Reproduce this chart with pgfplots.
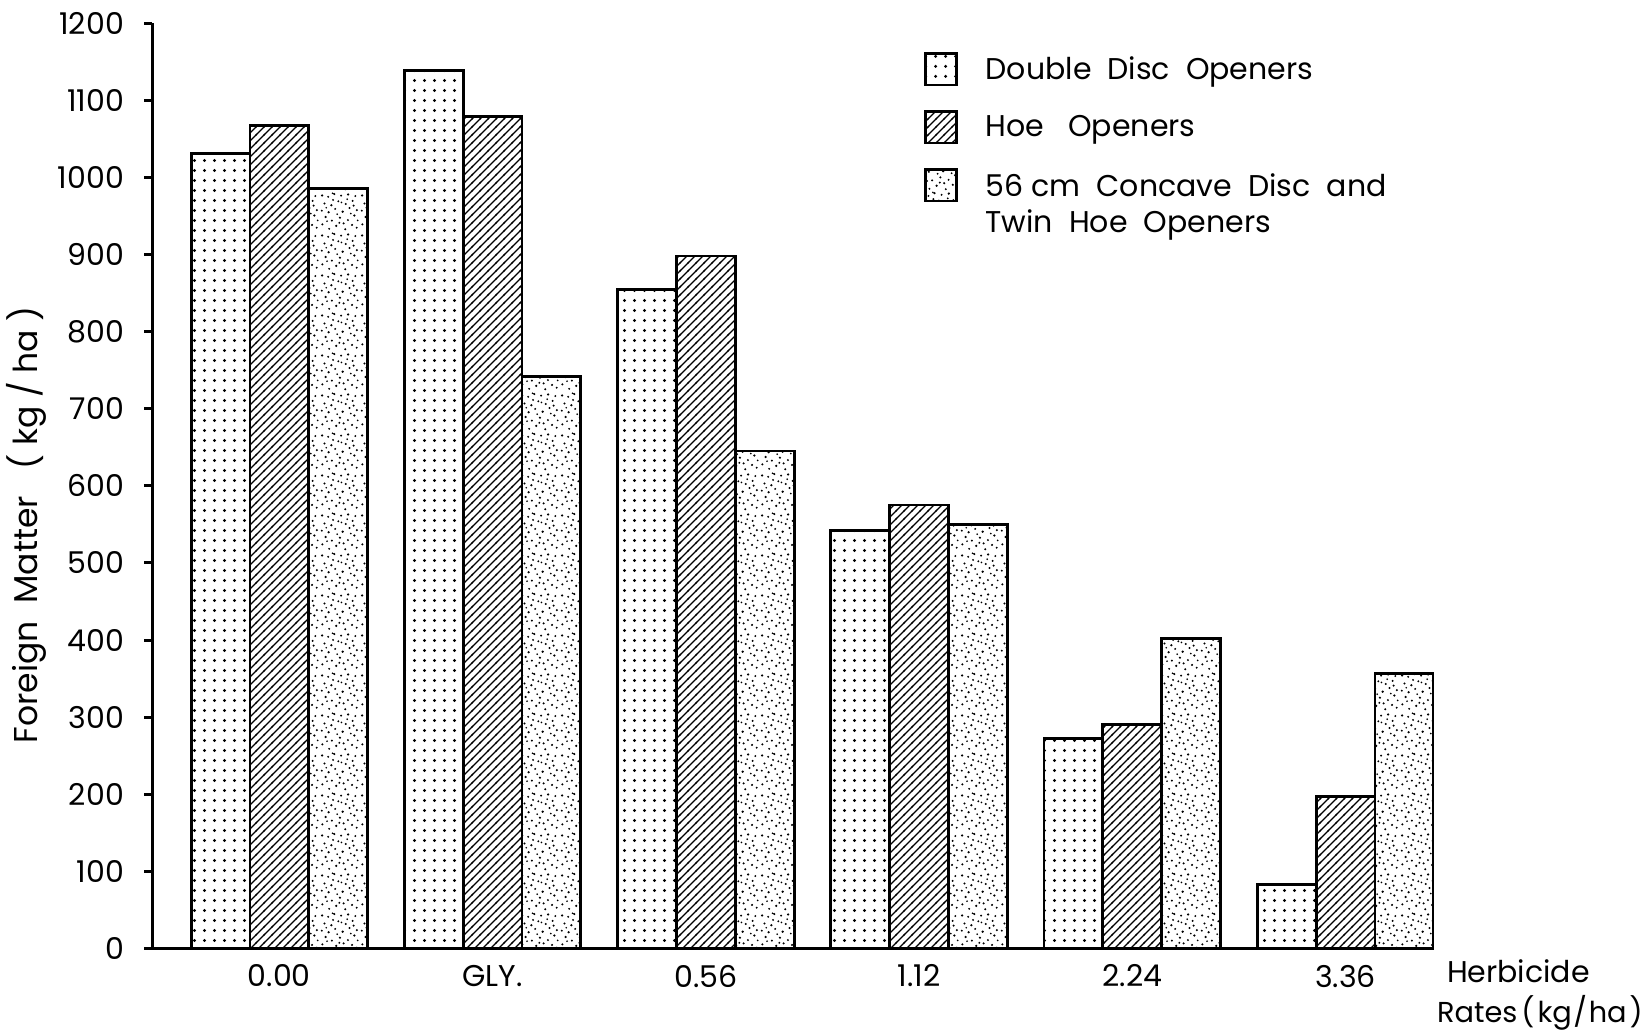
\documentclass[border=0pt]{standalone}
\usepackage{fontspec}
\setmainfont{Poppins}
\usepackage{pgfplots}
\pgfplotsset{compat=1.18}
\usetikzlibrary{patterns}

\pgfdeclarepatternformonly{ddots}{\pgfpointorigin}{\pgfpoint{4.75pt}{4.75pt}}{\pgfpoint{4.75pt}{4.75pt}}{%
  \pgfpathcircle{\pgfpoint{2.37pt}{2.37pt}}{0.85pt}\pgfusepath{fill}}
\pgfdeclarepatternformonly{hatch}{\pgfpoint{-0.5pt}{-0.5pt}}{\pgfpoint{4.5pt}{4.5pt}}{\pgfpoint{4pt}{4pt}}{%
  \pgfsetlinewidth{0.6pt}\pgfpathmoveto{\pgfpoint{-0.5pt}{-0.5pt}}\pgfpathlineto{\pgfpoint{4.5pt}{4.5pt}}\pgfusepath{stroke}}
\newcommand\sd[3]{\pgfpathcircle{\pgfpoint{#1pt}{#2pt}}{#3pt}}
\pgfdeclarepatternformonly{stipple}{\pgfpointorigin}{\pgfpoint{20pt}{20pt}}{\pgfpoint{20pt}{20pt}}{%
  \sd{1.2}{3.4}{0.6}\sd{4.7}{1.1}{0.55}\sd{8.3}{2.6}{0.65}\sd{12.9}{0.9}{0.55}\sd{16.4}{3.1}{0.6}%
  \sd{18.8}{1.7}{0.55}\sd{2.9}{7.2}{0.65}\sd{6.1}{5.3}{0.55}\sd{10.2}{6.8}{0.6}\sd{14.3}{5.6}{0.55}%
  \sd{17.6}{7.9}{0.65}\sd{0.9}{10.4}{0.55}\sd{4.4}{9.6}{0.6}\sd{7.8}{11.3}{0.55}\sd{11.6}{9.9}{0.65}%
  \sd{15.1}{11.8}{0.55}\sd{18.9}{10.7}{0.6}\sd{2.3}{14.1}{0.55}\sd{5.8}{13.2}{0.65}\sd{9.4}{15.2}{0.55}%
  \sd{13.2}{13.8}{0.6}\sd{16.7}{15.4}{0.55}\sd{1.1}{18.2}{0.65}\sd{4.2}{17.5}{0.55}\sd{7.3}{18.9}{0.6}%
  \sd{10.8}{18.1}{0.55}\sd{14.4}{18.7}{0.65}\sd{18.1}{17.9}{0.55}\sd{12.1}{3.9}{0.6}\sd{6.7}{15.9}{0.55}%
  \sd{9.9}{4.2}{0.55}\sd{17.2}{13.0}{0.6}\sd{3.6}{5.0}{0.5}\sd{13.9}{16.3}{0.5}\sd{8.8}{8.6}{0.5}%
  \sd{11.0}{14.6}{0.5}\sd{15.8}{8.9}{0.5}\sd{3.2}{11.9}{0.5}\sd{19.3}{5.4}{0.5}\sd{6.4}{19.3}{0.45}%
  \pgfusepath{fill}}

\pgfplotstableread{
x  dd    hoe   cc
0  1031  1067  985
1  1139  1079  742
2  855   898   645
3  542   575   550
4  272   290   402
5  83    197   357
}\datatable

\begin{document}
\begin{tikzpicture}
\useasboundingbox (0,0) rectangle (823.5pt,515.5pt);
\begin{axis}[
  at={(76.15pt,41.25pt)}, anchor=south west,
  scale only axis, width=640.75pt, height=462.7pt,
  xmin=-0.596, xmax=5.414, ymin=0, ymax=1200,
  axis x line*=bottom, axis y line*=left,
  axis line style={line width=1.5pt},
  ytick={0,100,...,1200},
  xtick={0,...,5}, xticklabels={0.00,GLY.,0.56,1.12,2.24,3.36},
  x tick style={draw=none},
  y tick style={line width=1.5pt, black},
  tick align=outside, major tick length=4pt,
  /pgf/number format/assume math mode=true,
  /pgf/number format/1000 sep={},
  tick label style={font=\fontsize{15}{18}\selectfont},
  yticklabel style={anchor=east, inner sep=0pt, xshift=-10pt},
  xticklabel style={anchor=north, inner sep=0pt, yshift=-4pt},
  ylabel={Foreign\ \ Matter\ \ \ ( kg / ha )},
  ylabel style={at={(axis description cs:-0.0986,0.458)}, anchor=center, font=\fontsize{16.5}{19}\selectfont},
  xlabel={\hspace*{5pt}Herbicide\\{\fontsize{14.4}{20}\selectfont Rates\kern2pt(\kern1.5pt kg\kern0.8pt/\kern0.8pt ha\kern1.5pt)}},
  xlabel style={at={(axis description cs:1.0023,-0.0499)}, anchor=west, align=left, inner sep=0pt, font=\fontsize{15}{20}\selectfont},
  ybar, bar width=0.276,
  legend style={at={(axis description cs:0.597,0.973)}, anchor=north west, draw=none, fill=none,
    font=\fontsize{15}{18}\selectfont, row sep=12pt, column sep=14pt, nodes={inner sep=0pt}},
  legend cell align=left,
  mybar/.style={draw=black, line width=1.4pt,
    legend image code/.code={\draw[##1,line width=1.4pt] (0pt,-7.8pt) rectangle (15.6pt,7.8pt);}},
]
\addplot[mybar, pattern=ddots, bar shift=-0.276] table[x=x,y=dd] {\datatable};
\addlegendentry{Double\ \ Disc\ \ Openers}
\addplot[mybar, pattern=hatch, bar shift=0] table[x=x,y=hoe] {\datatable};
\addlegendentry{Hoe\ \ \ Openers}
\addplot[mybar, pattern=stipple, bar shift=0.276] table[x=x,y=cc] {\datatable};
\addlegendentry{\begin{tabular}[t]{@{}l@{}}56 cm\ \ Concave\ \ Disc\ \ and\\Twin\ \ Hoe\ \ Openers\end{tabular}}
\end{axis}
\end{tikzpicture}
\end{document}
